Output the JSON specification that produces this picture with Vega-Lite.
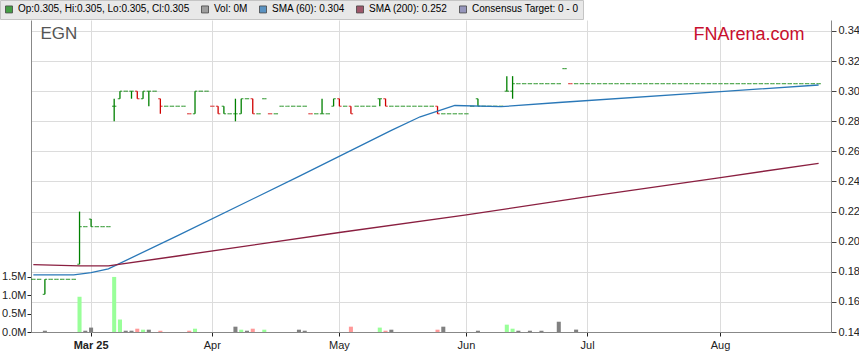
{
"$schema": "https://vega.github.io/schema/vega-lite/v6.json",
"width": 800, "height": 312,
"autosize": {"type": "none"},
"padding": {"left": 31, "top": 20, "right": 28, "bottom": 31},
"background": "white",
"config": {"font": "Liberation Sans", "view": {"stroke": null}},
"datasets": {
"px": [
{"d":"2025-02-17","o":0.175,"h":0.175,"l":0.175,"c":0.175,"v":0},
{"d":"2025-02-18","o":0.175,"h":0.175,"l":0.175,"c":0.175,"v":0},
{"d":"2025-02-19","o":0.165,"h":0.175,"l":0.165,"c":0.175,"v":35000},
{"d":"2025-02-20","o":0.175,"h":0.175,"l":0.175,"c":0.175,"v":0},
{"d":"2025-02-21","o":0.175,"h":0.175,"l":0.175,"c":0.175,"v":0},
{"d":"2025-02-24","o":0.175,"h":0.175,"l":0.175,"c":0.175,"v":0},
{"d":"2025-02-25","o":0.175,"h":0.175,"l":0.175,"c":0.175,"v":0},
{"d":"2025-02-26","o":0.175,"h":0.175,"l":0.175,"c":0.175,"v":0},
{"d":"2025-02-27","o":0.185,"h":0.22,"l":0.185,"c":0.21,"v":960000},
{"d":"2025-02-28","o":0.21,"h":0.21,"l":0.21,"c":0.21,"v":35000},
{"d":"2025-03-03","o":0.215,"h":0.215,"l":0.21,"c":0.21,"v":120000},
{"d":"2025-03-04","o":0.21,"h":0.21,"l":0.21,"c":0.21,"v":0},
{"d":"2025-03-05","o":0.21,"h":0.21,"l":0.21,"c":0.21,"v":0},
{"d":"2025-03-06","o":0.21,"h":0.21,"l":0.21,"c":0.21,"v":0},
{"d":"2025-03-07","o":0.29,"h":0.295,"l":0.28,"c":0.29,"v":1500000},
{"d":"2025-03-10","o":0.295,"h":0.30,"l":0.295,"c":0.30,"v":340000},
{"d":"2025-03-11","o":0.30,"h":0.30,"l":0.30,"c":0.30,"v":35000},
{"d":"2025-03-12","o":0.30,"h":0.30,"l":0.295,"c":0.30,"v":35000},
{"d":"2025-03-13","o":0.30,"h":0.30,"l":0.295,"c":0.295,"v":90000},
{"d":"2025-03-14","o":0.295,"h":0.30,"l":0.295,"c":0.30,"v":63000},
{"d":"2025-03-17","o":0.30,"h":0.30,"l":0.29,"c":0.30,"v":63000},
{"d":"2025-03-18","o":0.30,"h":0.30,"l":0.30,"c":0.30,"v":0},
{"d":"2025-03-19","o":0.295,"h":0.295,"l":0.285,"c":0.29,"v":35000},
{"d":"2025-03-20","o":0.29,"h":0.29,"l":0.29,"c":0.29,"v":0},
{"d":"2025-03-21","o":0.29,"h":0.29,"l":0.29,"c":0.29,"v":0},
{"d":"2025-03-24","o":0.29,"h":0.29,"l":0.29,"c":0.29,"v":0},
{"d":"2025-03-25","o":0.29,"h":0.29,"l":0.29,"c":0.29,"v":0},
{"d":"2025-03-26","o":0.285,"h":0.285,"l":0.285,"c":0.285,"v":35000},
{"d":"2025-03-27","o":0.285,"h":0.30,"l":0.285,"c":0.30,"v":90000},
{"d":"2025-03-28","o":0.30,"h":0.30,"l":0.30,"c":0.30,"v":0},
{"d":"2025-03-31","o":0.30,"h":0.30,"l":0.30,"c":0.30,"v":0},
{"d":"2025-04-01","o":0.29,"h":0.29,"l":0.29,"c":0.29,"v":0},
{"d":"2025-04-02","o":0.29,"h":0.29,"l":0.285,"c":0.285,"v":0},
{"d":"2025-04-03","o":0.29,"h":0.29,"l":0.285,"c":0.285,"v":0},
{"d":"2025-04-04","o":0.285,"h":0.285,"l":0.285,"c":0.285,"v":0},
{"d":"2025-04-07","o":0.285,"h":0.295,"l":0.28,"c":0.285,"v":145000},
{"d":"2025-04-08","o":0.285,"h":0.295,"l":0.285,"c":0.295,"v":63000},
{"d":"2025-04-09","o":0.295,"h":0.295,"l":0.295,"c":0.295,"v":35000},
{"d":"2025-04-10","o":0.295,"h":0.295,"l":0.285,"c":0.285,"v":90000},
{"d":"2025-04-11","o":0.285,"h":0.285,"l":0.285,"c":0.285,"v":0},
{"d":"2025-04-14","o":0.295,"h":0.295,"l":0.295,"c":0.295,"v":63000},
{"d":"2025-04-15","o":0.285,"h":0.285,"l":0.285,"c":0.285,"v":0},
{"d":"2025-04-16","o":0.285,"h":0.285,"l":0.285,"c":0.285,"v":0},
{"d":"2025-04-17","o":0.29,"h":0.29,"l":0.29,"c":0.29,"v":0},
{"d":"2025-04-18","o":0.29,"h":0.29,"l":0.29,"c":0.29,"v":0},
{"d":"2025-04-21","o":0.29,"h":0.29,"l":0.29,"c":0.29,"v":0},
{"d":"2025-04-22","o":0.29,"h":0.29,"l":0.29,"c":0.29,"v":63000},
{"d":"2025-04-23","o":0.29,"h":0.29,"l":0.29,"c":0.29,"v":35000},
{"d":"2025-04-24","o":0.285,"h":0.285,"l":0.285,"c":0.285,"v":0},
{"d":"2025-04-25","o":0.285,"h":0.285,"l":0.285,"c":0.285,"v":0},
{"d":"2025-04-28","o":0.285,"h":0.295,"l":0.285,"c":0.285,"v":0},
{"d":"2025-04-29","o":0.285,"h":0.285,"l":0.285,"c":0.285,"v":0},
{"d":"2025-04-30","o":0.29,"h":0.295,"l":0.29,"c":0.295,"v":0},
{"d":"2025-05-01","o":0.295,"h":0.295,"l":0.29,"c":0.29,"v":0},
{"d":"2025-05-02","o":0.29,"h":0.29,"l":0.29,"c":0.29,"v":0},
{"d":"2025-05-05","o":0.29,"h":0.29,"l":0.285,"c":0.285,"v":145000},
{"d":"2025-05-06","o":0.29,"h":0.29,"l":0.29,"c":0.29,"v":0},
{"d":"2025-05-07","o":0.29,"h":0.29,"l":0.29,"c":0.29,"v":0},
{"d":"2025-05-08","o":0.29,"h":0.29,"l":0.29,"c":0.29,"v":0},
{"d":"2025-05-09","o":0.29,"h":0.29,"l":0.29,"c":0.29,"v":0},
{"d":"2025-05-12","o":0.295,"h":0.295,"l":0.29,"c":0.295,"v":120000},
{"d":"2025-05-13","o":0.295,"h":0.295,"l":0.29,"c":0.29,"v":35000},
{"d":"2025-05-14","o":0.29,"h":0.29,"l":0.29,"c":0.29,"v":63000},
{"d":"2025-05-15","o":0.29,"h":0.29,"l":0.29,"c":0.29,"v":0},
{"d":"2025-05-16","o":0.29,"h":0.29,"l":0.29,"c":0.29,"v":0},
{"d":"2025-05-19","o":0.29,"h":0.29,"l":0.29,"c":0.29,"v":0},
{"d":"2025-05-20","o":0.29,"h":0.29,"l":0.29,"c":0.29,"v":0},
{"d":"2025-05-21","o":0.29,"h":0.29,"l":0.29,"c":0.29,"v":0},
{"d":"2025-05-22","o":0.29,"h":0.29,"l":0.29,"c":0.29,"v":0},
{"d":"2025-05-23","o":0.29,"h":0.29,"l":0.29,"c":0.29,"v":0},
{"d":"2025-05-26","o":0.29,"h":0.29,"l":0.285,"c":0.285,"v":63000},
{"d":"2025-05-27","o":0.285,"h":0.285,"l":0.285,"c":0.285,"v":145000},
{"d":"2025-05-28","o":0.285,"h":0.285,"l":0.285,"c":0.285,"v":0},
{"d":"2025-05-29","o":0.285,"h":0.285,"l":0.285,"c":0.285,"v":0},
{"d":"2025-05-30","o":0.285,"h":0.285,"l":0.285,"c":0.285,"v":0},
{"d":"2025-06-02","o":0.285,"h":0.285,"l":0.285,"c":0.285,"v":0},
{"d":"2025-06-03","o":0.29,"h":0.29,"l":0.29,"c":0.29,"v":0},
{"d":"2025-06-04","o":0.295,"h":0.295,"l":0.29,"c":0.29,"v":35000},
{"d":"2025-06-05","o":0.29,"h":0.29,"l":0.29,"c":0.29,"v":0},
{"d":"2025-06-06","o":0.29,"h":0.29,"l":0.29,"c":0.29,"v":0},
{"d":"2025-06-09","o":0.29,"h":0.29,"l":0.29,"c":0.29,"v":0},
{"d":"2025-06-10","o":0.29,"h":0.29,"l":0.29,"c":0.29,"v":0},
{"d":"2025-06-11","o":0.30,"h":0.31,"l":0.30,"c":0.30,"v":200000},
{"d":"2025-06-12","o":0.30,"h":0.31,"l":0.295,"c":0.305,"v":90000},
{"d":"2025-06-13","o":0.305,"h":0.305,"l":0.305,"c":0.305,"v":35000},
{"d":"2025-06-16","o":0.305,"h":0.305,"l":0.305,"c":0.305,"v":0},
{"d":"2025-06-17","o":0.305,"h":0.305,"l":0.305,"c":0.305,"v":35000},
{"d":"2025-06-18","o":0.305,"h":0.305,"l":0.305,"c":0.305,"v":0},
{"d":"2025-06-19","o":0.305,"h":0.305,"l":0.305,"c":0.305,"v":35000},
{"d":"2025-06-20","o":0.305,"h":0.305,"l":0.305,"c":0.305,"v":0},
{"d":"2025-06-23","o":0.305,"h":0.305,"l":0.305,"c":0.305,"v":0},
{"d":"2025-06-24","o":0.305,"h":0.305,"l":0.305,"c":0.305,"v":280000},
{"d":"2025-06-25","o":0.315,"h":0.315,"l":0.315,"c":0.315,"v":0},
{"d":"2025-06-26","o":0.305,"h":0.305,"l":0.305,"c":0.305,"v":0},
{"d":"2025-06-27","o":0.305,"h":0.305,"l":0.305,"c":0.305,"v":65000},
{"d":"2025-06-30","o":0.305,"h":0.305,"l":0.305,"c":0.305,"v":0},
{"d":"2025-07-01","o":0.305,"h":0.305,"l":0.305,"c":0.305,"v":0},
{"d":"2025-07-02","o":0.305,"h":0.305,"l":0.305,"c":0.305,"v":0},
{"d":"2025-07-03","o":0.305,"h":0.305,"l":0.305,"c":0.305,"v":0},
{"d":"2025-07-04","o":0.305,"h":0.305,"l":0.305,"c":0.305,"v":0},
{"d":"2025-07-07","o":0.305,"h":0.305,"l":0.305,"c":0.305,"v":0},
{"d":"2025-07-08","o":0.305,"h":0.305,"l":0.305,"c":0.305,"v":0},
{"d":"2025-07-09","o":0.305,"h":0.305,"l":0.305,"c":0.305,"v":0},
{"d":"2025-07-10","o":0.305,"h":0.305,"l":0.305,"c":0.305,"v":0},
{"d":"2025-07-11","o":0.305,"h":0.305,"l":0.305,"c":0.305,"v":0},
{"d":"2025-07-14","o":0.305,"h":0.305,"l":0.305,"c":0.305,"v":0},
{"d":"2025-07-15","o":0.305,"h":0.305,"l":0.305,"c":0.305,"v":0},
{"d":"2025-07-16","o":0.305,"h":0.305,"l":0.305,"c":0.305,"v":0},
{"d":"2025-07-17","o":0.305,"h":0.305,"l":0.305,"c":0.305,"v":0},
{"d":"2025-07-18","o":0.305,"h":0.305,"l":0.305,"c":0.305,"v":0},
{"d":"2025-07-21","o":0.305,"h":0.305,"l":0.305,"c":0.305,"v":0},
{"d":"2025-07-22","o":0.305,"h":0.305,"l":0.305,"c":0.305,"v":0},
{"d":"2025-07-23","o":0.305,"h":0.305,"l":0.305,"c":0.305,"v":0},
{"d":"2025-07-24","o":0.305,"h":0.305,"l":0.305,"c":0.305,"v":0},
{"d":"2025-07-25","o":0.305,"h":0.305,"l":0.305,"c":0.305,"v":0},
{"d":"2025-07-28","o":0.305,"h":0.305,"l":0.305,"c":0.305,"v":0},
{"d":"2025-07-29","o":0.305,"h":0.305,"l":0.305,"c":0.305,"v":0},
{"d":"2025-07-30","o":0.305,"h":0.305,"l":0.305,"c":0.305,"v":0},
{"d":"2025-07-31","o":0.305,"h":0.305,"l":0.305,"c":0.305,"v":0},
{"d":"2025-08-01","o":0.305,"h":0.305,"l":0.305,"c":0.305,"v":0},
{"d":"2025-08-04","o":0.305,"h":0.305,"l":0.305,"c":0.305,"v":0},
{"d":"2025-08-05","o":0.305,"h":0.305,"l":0.305,"c":0.305,"v":0},
{"d":"2025-08-06","o":0.305,"h":0.305,"l":0.305,"c":0.305,"v":0},
{"d":"2025-08-07","o":0.305,"h":0.305,"l":0.305,"c":0.305,"v":0},
{"d":"2025-08-08","o":0.305,"h":0.305,"l":0.305,"c":0.305,"v":0},
{"d":"2025-08-11","o":0.305,"h":0.305,"l":0.305,"c":0.305,"v":0},
{"d":"2025-08-12","o":0.305,"h":0.305,"l":0.305,"c":0.305,"v":0},
{"d":"2025-08-13","o":0.305,"h":0.305,"l":0.305,"c":0.305,"v":0},
{"d":"2025-08-14","o":0.305,"h":0.305,"l":0.305,"c":0.305,"v":0},
{"d":"2025-08-15","o":0.305,"h":0.305,"l":0.305,"c":0.305,"v":0},
{"d":"2025-08-18","o":0.305,"h":0.305,"l":0.305,"c":0.305,"v":0},
{"d":"2025-08-19","o":0.305,"h":0.305,"l":0.305,"c":0.305,"v":0},
{"d":"2025-08-20","o":0.305,"h":0.305,"l":0.305,"c":0.305,"v":0},
{"d":"2025-08-21","o":0.305,"h":0.305,"l":0.305,"c":0.305,"v":0},
{"d":"2025-08-22","o":0.305,"h":0.305,"l":0.305,"c":0.305,"v":0},
{"d":"2025-08-25","o":0.305,"h":0.305,"l":0.305,"c":0.305,"v":0},
{"d":"2025-08-26","o":0.305,"h":0.305,"l":0.305,"c":0.305,"v":0}
],
"sma": [
{"d":"2025-02-17","s":"sma60","p":0.178},
{"d":"2025-02-26","s":"sma60","p":0.178},
{"d":"2025-03-03","s":"sma60","p":0.1795},
{"d":"2025-03-06","s":"sma60","p":0.182},
{"d":"2025-03-24","s":"sma60","p":0.204},
{"d":"2025-04-22","s":"sma60","p":0.2434},
{"d":"2025-05-14","s":"sma60","p":0.274},
{"d":"2025-05-21","s":"sma60","p":0.283},
{"d":"2025-05-29","s":"sma60","p":0.2905},
{"d":"2025-06-10","s":"sma60","p":0.2897},
{"d":"2025-06-24","s":"sma60","p":0.2925},
{"d":"2025-08-01","s":"sma60","p":0.2997},
{"d":"2025-08-26","s":"sma60","p":0.3041},
{"d":"2025-02-17","s":"sma200","p":0.1847},
{"d":"2025-02-27","s":"sma200","p":0.1839},
{"d":"2025-03-06","s":"sma200","p":0.184},
{"d":"2025-03-24","s":"sma200","p":0.1905},
{"d":"2025-05-01","s":"sma200","p":0.2061},
{"d":"2025-06-02","s":"sma200","p":0.2178},
{"d":"2025-07-01","s":"sma200","p":0.2299},
{"d":"2025-08-01","s":"sma200","p":0.2426},
{"d":"2025-08-26","s":"sma200","p":0.2521}
],
"keys": [{"k":"ohlc"},{"k":"vol"},{"k":"sma60"},{"k":"sma200"},{"k":"target"}]
},
"encoding": {
"x": {"field": "d", "type": "ordinal",
 "scale": {"type": "band", "paddingInner": 0.3, "paddingOuter": 0.925, "align": 0.03, "round": false},
 "axis": {"title": null, "values": ["2025-03-03","2025-04-01","2025-05-01","2025-06-02","2025-07-01","2025-08-01"],
  "labelExpr": "datum.value == '2025-03-03' ? 'Mar 25' : datum.value == '2025-04-01' ? 'Apr' : datum.value == '2025-05-01' ? 'May' : datum.value == '2025-06-02' ? 'Jun' : datum.value == '2025-07-01' ? 'Jul' : 'Aug'",
  "labelFontWeight": {"condition": {"test": "datum.value == '2025-03-03'", "value": "bold"}, "value": "normal"},
  "labelAngle": 0, "labelFontSize": 11, "labelColor": "#222", "labelPadding": 3, "labelFont": "Liberation Sans",
  "grid": true, "gridColor": "#dcdcdc", "tickSize": 4, "tickColor": "#222", "domainColor": "#888", "bandPosition": 0.5}}
},
"layer": [
{"data": {"name": "px"},
 "transform": [{"window": [{"op": "lag", "field": "c", "as": "pc"}], "sort": [{"field": "d"}]}],
 "mark": {"type": "bar"},
 "encoding": {
  "y": {"field": "v", "type": "quantitative", "scale": {"domain": [0, 8500000], "nice": false},
   "axis": {"orient": "left", "values": [0, 500000, 1000000, 1500000], "labelExpr": "format(datum.value / 1000000, '.1f') + 'M'",
    "grid": false, "tickSize": 4, "tickColor": "#222", "domainColor": "#888", "labelPadding": 1, "labelFontSize": 11, "labelColor": "#222", "labelFont": "Liberation Sans",
    "title": "EGN", "titleAngle": 0, "titleX": 9, "titleY": 18, "titleAlign": "left", "titleBaseline": "alphabetic", "titleFontSize": 17, "titleFontWeight": "normal", "titleColor": "#555", "titleFont": "Liberation Sans"}},
  "color": {"condition": [{"test": "datum.pc != null && datum.c > datum.pc", "value": "#99ff99"}, {"test": "datum.pc != null && datum.c < datum.pc", "value": "#ff9999"}], "value": "#808080"}
 }},
{"layer": [
 {"data": {"name": "px"},
  "transform": [{"window": [{"op": "lag", "field": "c", "as": "pc"}], "sort": [{"field": "d"}]}],
  "layer": [
   {"mark": {"type": "rule", "strokeWidth": 1.3},
    "encoding": {
     "y": {"field": "l", "type": "quantitative", "title": "FNArena.com", "scale": {"domain": [0.14, 0.3473], "nice": false, "zero": false},
      "axis": {"orient": "right", "values": [0.14,0.16,0.18,0.20,0.22,0.24,0.26,0.28,0.30,0.32,0.34], "format": ".2f", "grid": true, "gridColor": "#dcdcdc", "tickSize": 5, "tickColor": "#444", "domainColor": "#888", "labelPadding": 2, "labelFontSize": 11, "labelColor": "#222", "labelFont": "Liberation Sans",
       "title": "FNArena.com", "titleAngle": 0, "titleX": -138, "titleY": 19, "titleAlign": "left", "titleBaseline": "alphabetic", "titleFontSize": 18, "titleFontWeight": "normal", "titleColor": "#c8102e", "titleFont": "Liberation Sans"}},
     "y2": {"field": "h"},
     "color": {"condition": {"test": "datum.pc != null && datum.c < datum.pc", "value": "#d00000"}, "value": "#008000"}}},
   {"mark": {"type": "tick", "size": 2.2, "thickness": 1.2, "xOffset": -1.1},
    "encoding": {
     "y": {"field": "o", "type": "quantitative", "title": "FNArena.com", "scale": {"domain": [0.14, 0.3473], "nice": false, "zero": false},
      "axis": {"orient": "right", "values": [0.14,0.16,0.18,0.20,0.22,0.24,0.26,0.28,0.30,0.32,0.34], "format": ".2f", "grid": true, "gridColor": "#dcdcdc", "tickSize": 5, "tickColor": "#444", "domainColor": "#888", "labelPadding": 2, "labelFontSize": 11, "labelColor": "#222", "labelFont": "Liberation Sans",
       "title": "FNArena.com", "titleAngle": 0, "titleX": -138, "titleY": 19, "titleAlign": "left", "titleBaseline": "alphabetic", "titleFontSize": 18, "titleFontWeight": "normal", "titleColor": "#c8102e", "titleFont": "Liberation Sans"}},
     "color": {"condition": {"test": "datum.pc != null && datum.c < datum.pc", "value": "#d00000"}, "value": "#008000"}}},
   {"mark": {"type": "tick", "size": 2.2, "thickness": 1.2, "xOffset": 1.1},
    "encoding": {
     "y": {"field": "c", "type": "quantitative", "title": "FNArena.com", "scale": {"domain": [0.14, 0.3473], "nice": false, "zero": false},
      "axis": {"orient": "right", "values": [0.14,0.16,0.18,0.20,0.22,0.24,0.26,0.28,0.30,0.32,0.34], "format": ".2f", "grid": true, "gridColor": "#dcdcdc", "tickSize": 5, "tickColor": "#444", "domainColor": "#888", "labelPadding": 2, "labelFontSize": 11, "labelColor": "#222", "labelFont": "Liberation Sans",
       "title": "FNArena.com", "titleAngle": 0, "titleX": -138, "titleY": 19, "titleAlign": "left", "titleBaseline": "alphabetic", "titleFontSize": 18, "titleFontWeight": "normal", "titleColor": "#c8102e", "titleFont": "Liberation Sans"}},
     "color": {"condition": {"test": "datum.pc != null && datum.c < datum.pc", "value": "#d00000"}, "value": "#008000"}}}
  ]},
 {"data": {"name": "sma"},
  "mark": {"type": "line", "strokeWidth": 1.3},
  "encoding": {
   "y": {"field": "p", "type": "quantitative", "title": "FNArena.com", "scale": {"domain": [0.14, 0.3473], "nice": false, "zero": false},
    "axis": {"orient": "right", "values": [0.14,0.16,0.18,0.20,0.22,0.24,0.26,0.28,0.30,0.32,0.34], "format": ".2f", "grid": true, "gridColor": "#dcdcdc", "tickSize": 5, "tickColor": "#444", "domainColor": "#888", "labelPadding": 2, "labelFontSize": 11, "labelColor": "#222", "labelFont": "Liberation Sans",
     "title": "FNArena.com", "titleAngle": 0, "titleX": -138, "titleY": 19, "titleAlign": "left", "titleBaseline": "alphabetic", "titleFontSize": 18, "titleFontWeight": "normal", "titleColor": "#c8102e", "titleFont": "Liberation Sans"}},
   "detail": {"field": "s"},
   "color": {"condition": {"test": "datum.s == 'sma60'", "value": "#2a78b8"}, "value": "#8a1f40"}}},
 {"data": {"name": "keys"},
  "transform": [{"filter": "false"}],
  "mark": {"type": "square"},
  "encoding": {
   "color": {"field": "k", "type": "nominal",
    "scale": {"domain": ["ohlc","vol","sma60","sma200","target"], "range": ["#008000","#808080","#1f6fb2","#7f1a35","#7474aa"]},
    "legend": {"orient": "none", "legendX": -31, "legendY": -20, "direction": "horizontal", "title": null,
     "symbolType": "square", "symbolSize": 49, "symbolStrokeColor": "#000", "symbolStrokeWidth": 0.8,
     "labelFontSize": 10, "labelFont": "Arial Narrow, Liberation Sans", "labelColor": "#000", "labelLimit": 700, "labelOffset": 4,
     "columnPadding": 9, "padding": 4, "fillColor": "#e8e8e8", "strokeColor": "#c4c4c4",
     "labelExpr": "datum.label == 'ohlc' ? 'Op:0.305, Hi:0.305, Lo:0.305, Cl:0.305' : datum.label == 'vol' ? 'Vol: 0M' : datum.label == 'sma60' ? 'SMA (60): 0.304' : datum.label == 'sma200' ? 'SMA (200): 0.252' : 'Consensus Target: 0 - 0'"}}}}
]}
],
"resolve": {"scale": {"y": "independent"}}
}
